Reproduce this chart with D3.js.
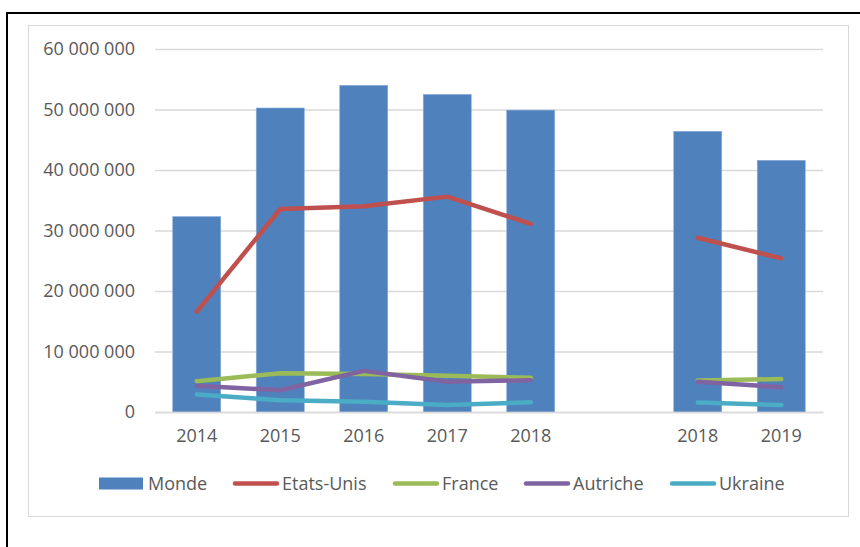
<!DOCTYPE html>
<html lang="fr">
<head>
<meta charset="UTF-8">
<title>Monde / Etats-Unis / France / Autriche / Ukraine</title>
<script src="https://d3js.org/d3.v7.min.js"></script>
<style>
  html, body { margin: 0; padding: 0; background: #fff; }
  svg { display: block; font-family: "Open Sans", sans-serif; }
</style>
</head>
<body>
<div id="chart"></div>
<script>
// Categories (the empty one is the gap between the two series blocks)
const categories = ["2014", "2015", "2016", "2017", "2018", "", "2018", "2019"];

// Series values
const monde     = [32300000, 50250000, 54000000, 52500000, 49900000, null, 46400000, 41600000];
const etatsUnis = [16600000, 33550000, 34000000, 35600000, 31100000, null, 28800000, 25400000];
const france    = [5100000, 6400000, 6300000, 6000000, 5650000, null, 5200000, 5450000];
const autriche  = [4350000, 3600000, 6800000, 5000000, 5250000, null, 5000000, 4100000];
const ukraine   = [2900000, 1950000, 1700000, 1150000, 1600000, null, 1550000, 1150000];

const yTicks = [0, 10000000, 20000000, 30000000, 40000000, 50000000, 60000000];

const lineSeries = [
  { name: "Etats-Unis", values: etatsUnis, color: "#C0504D" },
  { name: "France", values: france, color: "#9BBB59" },
  { name: "Autriche", values: autriche, color: "#8064A2" },
  { name: "Ukraine", values: ukraine, color: "#4BACC6" }
];

const W = 860, H = 547;
const plot = { left: 155, right: 823, top: 49, bottom: 412 };
const textColor = "#595959";
const fontSize = "18px";

const svg = d3.select("#chart").append("svg")
  .attr("width", W)
  .attr("height", H);

// outer black frame (runs off the right and bottom edges)
svg.append("rect")
  .attr("x", 7).attr("y", 13)
  .attr("width", 900).attr("height", 600)
  .attr("fill", "none")
  .attr("stroke", "#000")
  .attr("stroke-width", 2);

// chart area border
svg.append("rect")
  .attr("x", 28.5).attr("y", 25.5)
  .attr("width", 820).attr("height", 491)
  .attr("fill", "#fff")
  .attr("stroke", "#D9D9D9")
  .attr("stroke-width", 1);

const x = d3.scaleBand()
  .domain(d3.range(categories.length))
  .range([plot.left, plot.right])
  .paddingInner(0.425)
  .paddingOuter(0.2125);

const y = d3.scaleLinear()
  .domain([0, 60000000])
  .range([plot.bottom, plot.top]);

const fmt = v => d3.format(",")(v).replace(/,/g, " ");

// gridlines + y labels
svg.append("g")
  .attr("transform", `translate(${plot.left},0)`)
  .call(d3.axisLeft(y).tickValues(yTicks).tickSize(plot.left - plot.right).tickFormat(fmt).tickPadding(20))
  .call(g => g.select(".domain").remove())
  .call(g => g.selectAll(".tick line").attr("stroke", "#D9D9D9").attr("stroke-width", 1.3))
  .call(g => g.selectAll(".tick text")
    .attr("fill", textColor)
    .attr("font-size", fontSize)
    .attr("font-family", "'Open Sans', sans-serif"));

// bars
svg.append("g")
  .selectAll("rect")
  .data(monde.map((v, i) => ({ v, i })).filter(d => d.v != null))
  .join("rect")
  .attr("x", d => x(d.i))
  .attr("y", d => y(d.v))
  .attr("width", x.bandwidth())
  .attr("height", d => y(0) - y(d.v))
  .attr("fill", "#4F81BD")
  .attr("stroke", "#8EAEDA")
  .attr("stroke-width", 0.6);

// x axis
svg.append("g")
  .attr("transform", `translate(0,${plot.bottom})`)
  .call(d3.axisBottom(x).tickSize(0).tickFormat(i => categories[i]).tickPadding(17))
  .call(g => g.select(".domain").attr("stroke", "#D9D9D9").attr("stroke-width", 1.3))
  .call(g => g.selectAll(".tick text")
    .attr("fill", textColor)
    .attr("font-size", fontSize)
    .attr("font-family", "'Open Sans', sans-serif"));

// lines
const line = d3.line()
  .defined(d => d.v != null)
  .x(d => x(d.i) + x.bandwidth() / 2)
  .y(d => y(d.v));

svg.append("g")
  .selectAll("path")
  .data(lineSeries)
  .join("path")
  .attr("d", s => line(s.values.map((v, i) => ({ v, i }))))
  .attr("fill", "none")
  .attr("stroke", s => s.color)
  .attr("stroke-width", 4.5)
  .attr("stroke-linecap", "round")
  .attr("stroke-linejoin", "round");

// legend
const legendY = 483.5;
const legend = [
  { name: "Monde", color: "#4F81BD", type: "bar", x: 99 },
  { name: "Etats-Unis", color: "#C0504D", type: "line", x: 233 },
  { name: "France", color: "#9BBB59", type: "line", x: 393 },
  { name: "Autriche", color: "#8064A2", type: "line", x: 524 },
  { name: "Ukraine", color: "#4BACC6", type: "line", x: 670 }
];

const lg = svg.append("g").selectAll("g")
  .data(legend)
  .join("g")
  .attr("transform", d => `translate(${d.x},${legendY})`);

lg.filter(d => d.type === "bar").append("rect")
  .attr("x", 0).attr("y", -6)
  .attr("width", 44).attr("height", 12)
  .attr("fill", d => d.color);

lg.filter(d => d.type === "line").append("line")
  .attr("x1", 2).attr("x2", 44)
  .attr("y1", 0).attr("y2", 0)
  .attr("stroke", d => d.color)
  .attr("stroke-width", 4.5)
  .attr("stroke-linecap", "round");

lg.append("text")
  .attr("x", 49)
  .attr("y", 0)
  .attr("dy", "0.35em")
  .attr("fill", textColor)
  .attr("font-size", fontSize)
  .text(d => d.name);
</script>
</body>
</html>
